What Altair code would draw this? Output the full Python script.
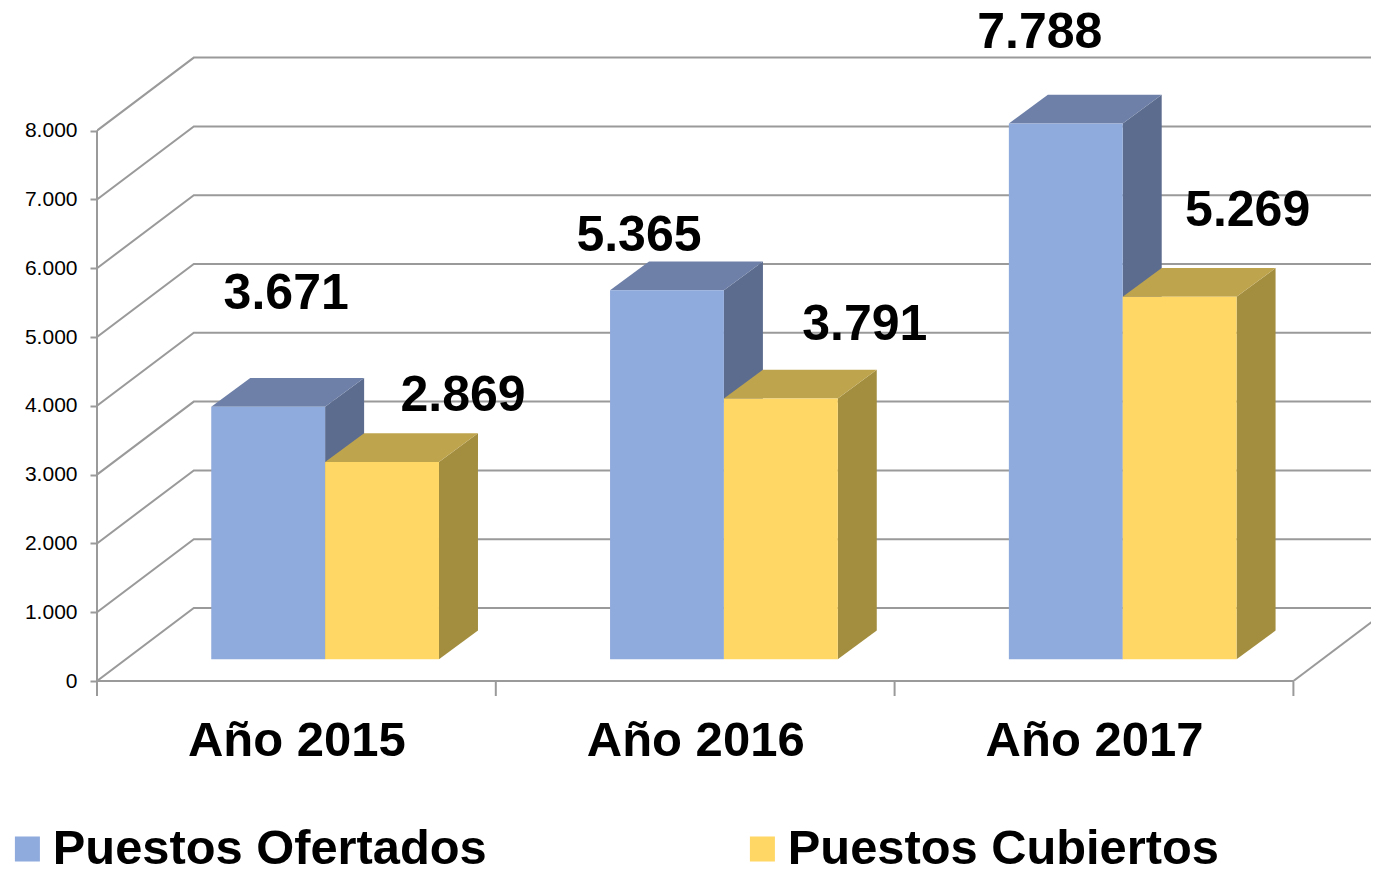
import altair as alt
import pandas as pd

# ---- values
years = ["Año 2015", "Año 2016", "Año 2017"]
ofertados = [3671, 5365, 7788]
cubiertos = [2869, 3791, 5269]
series_names = ["Puestos Ofertados", "Puestos Cubiertos"]
y_ticks = [0, 1000, 2000, 3000, 4000, 5000, 6000, 7000, 8000]

# ---- styling / layout (pixels)
W, H = 1274, 673
PX_CAT = 398.8      # pixels per category
PX_UNIT = 0.0688    # pixels per value unit
WALL_DX, WALL_DY = 96.8, 73.0
BASE_DY = 21.7
BAR_DX, BAR_DY = 39.0, 28.7
BAR_START, BAR_WIDTH = 0.2865, 0.2855
GRID = "#9a9a9a"
FRONT = ["#8FAADC", "#FFD764"]
TOP = ["#6E80A8", "#BFA44E"]
SIDE = ["#5C6C8E", "#A38E40"]
FONT = "Liberation Sans"
LABEL_DX = [[18, 81], [-28, 84], [-26, 68]]
LABEL_DY = [[113, 66], [54, 73], [90, 86]]

cx = lambda px: px / PX_CAT
vy = lambda px: px / PX_UNIT
n_cat = len(years)
values = [ofertados, cubiertos]

x_scale = alt.Scale(domain=[0, W / PX_CAT], range=[0, W], nice=False, zero=False)
y_scale = alt.Scale(domain=[0, H / PX_UNIT], range=[H, 0], nice=False, zero=False)
x_axis = alt.Axis(
    values=[i + 0.5 for i in range(n_cat)],
    labelExpr="%s[floor(datum.value)]" % str(years),
    tickSize=0, domain=False, grid=False, labelFont=FONT, labelFontSize=49,
    labelFontWeight="bold", labelColor="black", labelPadding=59, labelBaseline="middle",
    labelLimit=400, title=None)
y_axis = alt.Axis(
    values=y_ticks,
    labelExpr="replace(format(datum.value, ','), ',', '.')",
    tickSize=7, tickColor=GRID, tickWidth=2, domain=False, grid=False, labelFont=FONT,
    labelFontSize=21, labelColor="black", labelPadding=13, title=None)
X = lambda f: alt.X(f, type="quantitative", scale=x_scale, axis=x_axis)
Y = lambda f: alt.Y(f, type="quantitative", scale=y_scale, axis=y_axis, stack=None)

# walls: side-wall diagonal + back-wall line for each tick
wall = []
for v in y_ticks:
    wall += [
        dict(g=v, o=0, x=0, y=v),
        dict(g=v, o=1, x=cx(WALL_DX), y=v + vy(WALL_DY)),
        dict(g=v, o=2, x=n_cat + cx(WALL_DX), y=v + vy(WALL_DY)),
    ]
wall += [
    dict(g=-1, o=0, x=n_cat, y=0),
    dict(g=-1, o=1, x=n_cat + cx(WALL_DX), y=vy(WALL_DY)),
]
wall_layer = alt.Chart(pd.DataFrame(wall)).mark_line(color=GRID, strokeWidth=2, clip=True).encode(
    x=X("x"), y=Y("y"), detail="g:N", order="o:Q",
)

# axis lines and x ticks
rules_v = pd.DataFrame(
    [dict(x=0, y=0, y2=y_ticks[-1])] + [dict(x=i, y=0, y2=-vy(15)) for i in range(n_cat + 1)]
)
rule_v_layer = alt.Chart(rules_v).mark_rule(color=GRID, strokeWidth=2).encode(
    x=X("x"), y=Y("y"), y2="y2:Q")
floor_layer = alt.Chart(pd.DataFrame([dict(x=0, x2=n_cat, y=0)])).mark_rule(color=GRID, strokeWidth=2).encode(
    x=X("x"), x2="x2:Q", y=Y("y"))

# bars
base = vy(BASE_DY)
front, face_layers = [], []
for s, name in enumerate(series_names):
    side, top = [], []
    for i, v in enumerate(values[s]):
        x0 = i + BAR_START + s * BAR_WIDTH
        x1 = x0 + BAR_WIDTH
        front.append(dict(series=name, x=x0, x2=x1, y=base, y2=base + v))
        ddx, ddy = cx(BAR_DX), vy(BAR_DY)
        side += [dict(c=i, x=x1, y=base + v, y2=base),
                 dict(c=i, x=x1 + ddx, y=base + v + ddy, y2=base + ddy)]
        top += [dict(c=i, x=x0, x2=x1, y=base + v),
                dict(c=i, x=x0 + ddx, x2=x1 + ddx, y=base + v + ddy)]
    face_layers.append(alt.Chart(pd.DataFrame(side)).mark_area(color=SIDE[s], orient="vertical").encode(
        x=X("x"), y=Y("y"), y2="y2:Q", detail="c:N"))
    face_layers.append(alt.Chart(pd.DataFrame(top)).mark_area(color=TOP[s], orient="horizontal").encode(
        y=Y("y"), x=X("x"), x2="x2:Q", detail="c:N"))

front_layer = alt.Chart(pd.DataFrame(front)).mark_rect().encode(
    x=X("x"), x2="x2:Q", y=Y("y"), y2="y2:Q",
    color=alt.Color("series:N", scale=alt.Scale(domain=series_names, range=FRONT),
        legend=alt.Legend(
            orient="none", legendX=-94, legendY=816, direction="horizontal", columns=2, padding=0,
            title=None, symbolType="square", symbolSize=625, symbolStrokeWidth=0,
            labelFont=FONT, labelFontSize=48.8, labelFontWeight="bold", labelColor="black",
            labelLimit=700, labelOffset=1, columnPadding=251, clipHeight=50)),
)

# data labels
labels = []
for s in range(2):
    for i, v in enumerate(values[s]):
        x0 = i + BAR_START + s * BAR_WIDTH
        labels.append(dict(
            x=x0 + BAR_WIDTH / 2 + cx(LABEL_DX[i][s]),
            y=base + v + vy(LABEL_DY[i][s]),
            t=f"{v:,}".replace(",", "."),
        ))
text_layer = alt.Chart(pd.DataFrame(labels)).mark_text(
    font=FONT, fontSize=50, fontWeight="bold", color="black", align="center", baseline="middle"
).encode(x=X("x"), y=Y("y"), text="t:N")

chart = alt.layer(wall_layer, rule_v_layer, floor_layer, *face_layers, front_layer, text_layer).properties(
    width=W, height=H,
    padding={"left": 89, "top": 0, "right": 0, "bottom": 187},
    autosize=alt.AutoSizeParams(type="none"),
    background="white",
).configure_view(strokeWidth=0)

chart.save("out.html", embed_options={"renderer": "svg", "actions": False})
